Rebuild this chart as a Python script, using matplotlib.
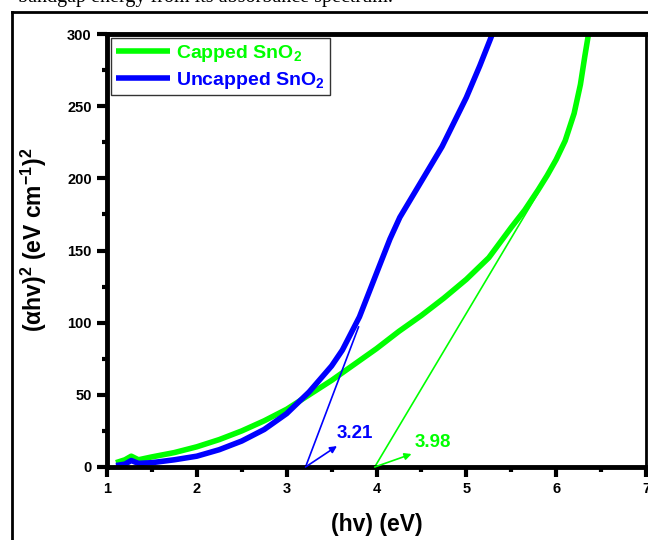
import matplotlib
matplotlib.use("Agg")
import matplotlib.pyplot as plt
from matplotlib.lines import Line2D
from matplotlib.ticker import MultipleLocator

plt.rcParams['font.family'] = ['Liberation Sans', 'DejaVu Sans']
plt.rcParams['font.weight'] = 'bold'
plt.rcParams['mathtext.fontset'] = 'custom'
plt.rcParams['mathtext.rm'] = 'Liberation Sans:bold'
plt.rcParams['mathtext.bf'] = 'Liberation Sans:bold'
plt.rcParams['mathtext.it'] = 'Liberation Sans:bold'
plt.rcParams['mathtext.default'] = 'rm'

# ---- data ----
capped_x = [1.10, 1.20, 1.27, 1.35, 1.5, 1.75, 2.0, 2.25, 2.5, 2.75, 3.0, 3.25, 3.5,
            3.75, 4.0, 4.25, 4.5, 4.75, 5.0, 5.25, 5.5, 5.65, 5.8, 5.9, 6.0, 6.1,
            6.2, 6.27, 6.32, 6.36]
capped_y = [3, 5, 7.5, 5, 7, 10, 14, 19, 25, 32, 40, 50, 60,
            71, 82, 94, 105, 117, 130, 145, 166, 178, 192, 202, 213, 226,
            245, 265, 285, 300]

uncapped_x = [1.10, 1.2, 1.27, 1.35, 1.5, 1.75, 2.0, 2.25, 2.5, 2.75, 3.0, 3.25, 3.5,
              3.62, 3.81, 4.03, 4.15, 4.26, 4.5, 4.73, 5.0, 5.15, 5.29]
uncapped_y = [1, 2, 4.5, 2.5, 3, 5, 7.5, 12, 18, 26, 37, 52, 70,
              81, 104, 139, 158, 173, 198, 222, 256, 278, 300]

tangent_unc_x = [3.21, 3.80]
tangent_unc_y = [0, 97]
tangent_cap_x = [3.98, 5.80]
tangent_cap_y = [0, 190]

gap_unc = 3.21
gap_cap = 3.98
arrow_unc_end = (3.56, 14.5)
arrow_cap_end = (4.39, 9)
label_unc_pos = (3.76, 23)
label_cap_pos = (4.63, 17)

xticks = [1, 2, 3, 4, 5, 6, 7]
yticks = [0, 50, 100, 150, 200, 250, 300]

green = '#00FF00'
blue = '#0000FF'

fig = plt.figure(figsize=(6.48, 5.40), dpi=100)
ax = fig.add_axes([107/648, 1-467/540, (646-107)/648, (467-34)/540])

ax.plot(capped_x, capped_y, color=green, lw=4, label='Capped SnO$_2$', solid_capstyle='butt')
ax.plot(uncapped_x, uncapped_y, color=blue, lw=4, label='Uncapped SnO$_2$', solid_capstyle='butt')

ax.plot(tangent_unc_x, tangent_unc_y, color=blue, lw=1.2)
ax.plot(tangent_cap_x, tangent_cap_y, color=green, lw=1.2)

ax.annotate('', xy=arrow_unc_end, xytext=(gap_unc, 0),
            arrowprops=dict(arrowstyle='-|>', color=blue, lw=1.2, mutation_scale=10,
                            shrinkA=0, shrinkB=0))
ax.annotate('', xy=arrow_cap_end, xytext=(gap_cap, 0),
            arrowprops=dict(arrowstyle='-|>', color=green, lw=1.2, mutation_scale=10,
                            shrinkA=0, shrinkB=0))
ax.text(*label_unc_pos, f'{gap_unc:.2f}', color=blue, fontsize=13.5, fontweight='bold',
        ha='center', va='center')
ax.text(*label_cap_pos, f'{gap_cap:.2f}', color=green, fontsize=13.5, fontweight='bold',
        ha='center', va='center')

ax.set_xlim(1, 7)
ax.set_ylim(0, 300)
ax.set_xticks(xticks)
ax.set_yticks(yticks)
ax.xaxis.set_minor_locator(MultipleLocator(0.5))
ax.yaxis.set_minor_locator(MultipleLocator(25))
ax.tick_params(which='major', direction='out', length=7, width=3, labelsize=10.5, pad=4)
ax.tick_params(which='minor', direction='out', length=3.5, width=3)
ax.tick_params(top=False, right=False, which='both')
for lab in ax.get_xticklabels() + ax.get_yticklabels():
    lab.set_fontweight('bold')

ax.spines['left'].set_linewidth(3.5)
ax.spines['bottom'].set_linewidth(3.5)
ax.spines['top'].set_linewidth(3.5)
ax.spines['right'].set_linewidth(2)

ax.set_xlabel('(hv) (eV)', fontsize=16.5, fontweight='bold', labelpad=12)
ax.set_ylabel('(αhv)$^2$ (eV cm$^{-1}$)$^2$', fontsize=16.5, fontweight='bold', labelpad=8)
ax.yaxis.set_label_coords(-0.108, 0.525)

leg = ax.legend(loc='upper left', frameon=True, fancybox=False, fontsize=14,
                handlelength=2.8, handletextpad=0.3, borderpad=0.25, labelspacing=0.3,
                borderaxespad=0.2)
leg.get_frame().set_edgecolor('black')
leg.get_frame().set_linewidth(1)
for txt, col in zip(leg.get_texts(), [green, blue]):
    txt.set_color(col)
    txt.set_fontweight('bold')

# document frame and caption text
fig.add_artist(Line2D([12/648, 12/648], [0, 1-12/540], color='black', lw=2,
                      transform=fig.transFigure))
fig.add_artist(Line2D([12/648, 1], [1-12/540, 1-12/540], color='black', lw=2,
                      transform=fig.transFigure))
fig.text(18/648, 1-2/540, 'bandgap energy from its absorbance spectrum.',
         family='Liberation Serif', fontsize=14.5, fontweight='normal', va='baseline', ha='left')

fig.savefig('out.png', dpi=100)
